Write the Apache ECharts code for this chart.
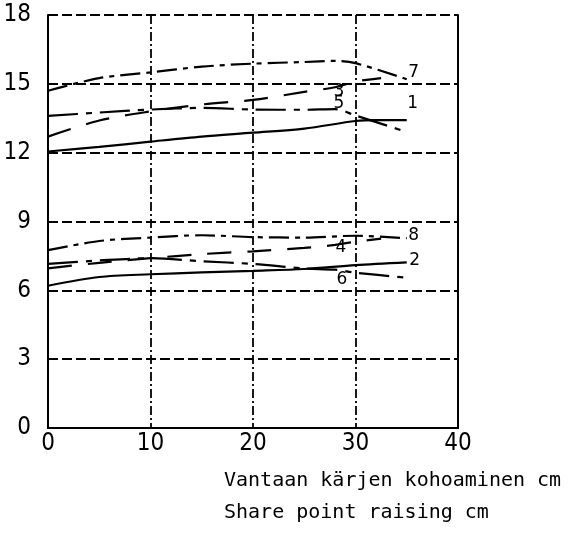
<!DOCTYPE html>
<html>
<head>
<meta charset="utf-8">
<script src="https://cdn.jsdelivr.net/npm/echarts@6/dist/echarts.min.js"></script>
<style>html,body{margin:0;padding:0;background:#fff;}#c{width:573px;height:535px;}</style>
</head>
<body>
<div id="c"></div>
<script>
// Axis ticks
const xTicks = [0, 10, 20, 30, 40];
const yTicks = [0, 3, 6, 9, 12, 15, 18];
// Series values [x, y]
const s1 = [[0,12.05],[5,12.25],[10,12.48],[15,12.7],[20,12.87],[25,13.05],[30,13.38],[32,13.42],[35,13.42]];
const s2 = [[0,6.2],[5,6.58],[10,6.7],[15,6.78],[20,6.85],[25,6.93],[30,7.1],[35,7.22]];
const s3 = [[0,12.7],[5,13.4],[10,13.8],[15,14.1],[20,14.3],[25,14.65],[28,14.85],[30,15.1],[32.5,15.25]];
const s4 = [[0,6.96],[5,7.2],[10,7.4],[15,7.58],[20,7.7],[25,7.85],[28,7.98],[30,8.12],[32.5,8.25]];
const s5 = [[0,13.6],[5,13.75],[10,13.88],[15,13.95],[20,13.88],[25,13.87],[28,13.9],[30,13.62],[35,12.9]];
const s6 = [[0,7.15],[5,7.3],[10,7.4],[15,7.27],[20,7.15],[25,6.95],[28,6.9],[30,6.77],[35,6.55]];
const s7 = [[0,14.7],[5,15.25],[10,15.5],[15,15.75],[20,15.88],[25,15.95],[28,16.0],[30,15.9],[35,15.2]];
const s8 = [[0,7.75],[5,8.15],[10,8.3],[15,8.4],[20,8.32],[25,8.3],[30,8.38],[35,8.27]];
const axisTitle = 'Vantaan kärjen kohoaminen cm\nShare point raising cm';

const tickFont = '"Liberation Sans Narrow", "DejaVu Sans Condensed", sans-serif';
const solid = 'solid', longDash = [24, 16], dashDot = [30, 8, 6, 8], dashDot2 = [20, 6, 5, 6];

function mk(name, data, type) {
  return {name: name, type: 'line', data: data, smooth: 0.3, symbol: 'none', showSymbol: false,
    lineStyle: {color: '#000', width: 2.2, type: type}, emphasis: {disabled: true}, z: 3};
}
// curve labels: [text, anchor point on its curve, offset in px]
const curveLabels = [
  ['1', s1[s1.length - 1], [6, -17]],
  ['2', s2[s2.length - 1], [8, -2]],
  ['3', s3[6], [4, 4]],
  ['4', s4[6], [6, 3]],
  ['5', s5[6], [4, -5]],
  ['6', s6[6], [7, 10]],
  ['7', s7[s7.length - 1], [7, -7]],
  ['8', s8[s8.length - 1], [7, -3]]
];
const series = [
  mk('1', s1, solid), mk('2', s2, solid),
  mk('3', s3, longDash), mk('4', s4, longDash),
  mk('5', s5, dashDot), mk('6', s6, dashDot),
  mk('7', s7, dashDot2), mk('8', s8, dashDot2)
];

const chart = echarts.init(document.getElementById('c'), null, {renderer: 'canvas'});
chart.setOption({
  animation: false,
  backgroundColor: '#fff',
  grid: {left: 48, right: 115, top: 15, bottom: 107},
  title: {text: axisTitle, left: 219, top: 460,
    textStyle: {fontFamily: '"DejaVu Sans Mono", monospace', fontSize: 20, fontWeight: 'normal', color: '#000', lineHeight: 32}},
  xAxis: {type: 'value', min: xTicks[0], max: xTicks[xTicks.length - 1], interval: 10,
    axisLine: {show: true, onZero: false, lineStyle: {color: '#000', width: 2}},
    axisTick: {show: false},
    axisLabel: {color: '#000', fontSize: 24, fontFamily: tickFont, margin: 4},
    splitLine: {show: true, lineStyle: {color: '#000', width: 1.8, type: [9, 3, 2, 3]}}},
  yAxis: [
    {type: 'value', min: yTicks[0], max: yTicks[yTicks.length - 1], interval: 3,
      axisLine: {show: true, lineStyle: {color: '#000', width: 2}},
      axisTick: {show: false},
      axisLabel: {color: '#000', fontSize: 24, fontFamily: tickFont, margin: 17},
      splitLine: {show: true, lineStyle: {color: '#000', width: 1.8, type: [10, 4]}}},
    {type: 'value', position: 'right', min: yTicks[0], max: yTicks[yTicks.length - 1], interval: 3,
      axisLine: {show: true, lineStyle: {color: '#000', width: 2}},
      axisTick: {show: false}, axisLabel: {show: false}, splitLine: {show: false}}
  ],
  series: series
});
const graphics = curveLabels.map(([text, pt, off]) => {
  const px = chart.convertToPixel({gridIndex: 0}, pt);
  return {type: 'text', x: px[0] + off[0], y: px[1] + off[1], z: 10,
    style: {text: text, fill: '#000', font: '17px "DejaVu Sans", sans-serif', textAlign: 'center', textVerticalAlign: 'middle'}};
});
chart.setOption({graphic: graphics});
</script>
</body>
</html>
